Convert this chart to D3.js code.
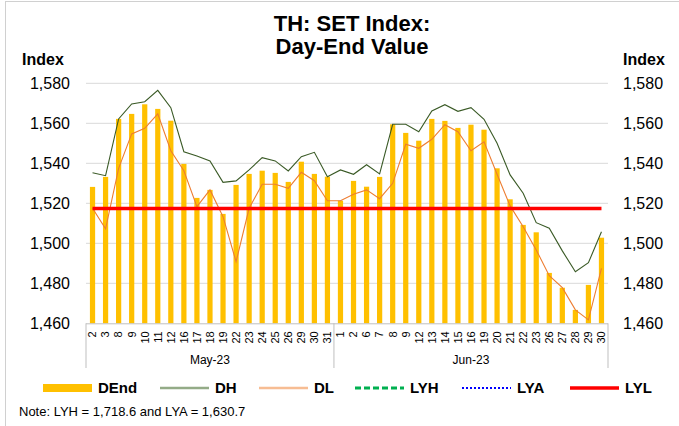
<!DOCTYPE html>
<html>
<head>
<meta charset="utf-8">
<script src="https://cdn.jsdelivr.net/npm/d3@7"></script>
<style>
  body { margin: 0; background: #fff; }
  svg { display: block; font-family: "Liberation Sans", Arial, sans-serif; }
</style>
</head>
<body>
<div id="chart"></div>
<script>
// trading days in each month
const mayDays = [2, 3, 8, 9, 10, 11, 12, 16, 17, 18, 19, 22, 23, 24, 25, 26, 29, 30, 31];
const junDays = [1, 2, 6, 7, 8, 9, 12, 13, 14, 15, 16, 19, 20, 21, 22, 23, 26, 27, 28, 29, 30];
const months = ["May-23", "Jun-23"];

// day-end, day high, day low
const dEnd = [1528.2, 1533.2, 1562.2, 1564.7, 1569.5, 1567.2, 1561.3, 1539.7, 1522.7, 1526.7, 1514.7, 1529.2, 1534.7, 1536.3, 1535.2, 1530.7, 1540.8, 1534.7, 1533.3,
              1521.3, 1531.2, 1528.3, 1533.2, 1559.5, 1555.2, 1551.3, 1562.2, 1561.2, 1557.7, 1559.3, 1556.8, 1537.5, 1522.0, 1509.2, 1505.5, 1485.2, 1477.8, 1466.7, 1479.2, 1502.8];
const dH = [1535.3, 1533.8, 1562.2, 1569.7, 1570.8, 1576.5, 1567.8, 1545.8, 1543.7, 1541.2, 1530.5, 1531.2, 1536.7, 1542.8, 1541.2, 1536.2, 1543.3, 1545.5, 1533.3,
            1536.7, 1534.5, 1539.3, 1534.7, 1559.5, 1559.5, 1555.8, 1566.2, 1569.3, 1566.0, 1567.8, 1562.0, 1550.0, 1534.2, 1525.0, 1510.3, 1507.5, 1496.2, 1485.8, 1490.3, 1505.8];
const dL = [1517.5, 1507.2, 1537.5, 1554.7, 1557.5, 1564.7, 1546.3, 1536.3, 1518.3, 1526.7, 1513.3, 1490.8, 1517.5, 1529.5, 1529.5, 1527.5, 1535.5, 1531.3, 1521.3,
            1521.3, 1524.5, 1526.7, 1522.3, 1530.0, 1549.5, 1547.5, 1552.0, 1559.3, 1555.8, 1546.3, 1550.7, 1534.5, 1518.7, 1508.3, 1496.7, 1483.8, 1477.8, 1466.7, 1461.7, 1487.5];
const lyl = 1517.4;
const yTicks = [1460, 1480, 1500, 1520, 1540, 1560, 1580];

const legendItems = [
  { key: "DEnd", x: 43 },
  { key: "DH", x: 160 },
  { key: "DL", x: 259 },
  { key: "LYH", x: 355 },
  { key: "LYA", x: 462 },
  { key: "LYL", x: 570 }
];

// build rows
const rows = [];
mayDays.forEach(d => rows.push({ key: "May-" + d, day: d, month: months[0] }));
junDays.forEach(d => rows.push({ key: "Jun-" + d, day: d, month: months[1] }));
rows.forEach((r, i) => { r.end = dEnd[i]; r.high = dH[i]; r.low = dL[i]; });

const W = 679, H = 426;
const plotLeft = 86, plotRight = 608, plotTop = 83.3, plotBottom = 323.3;

const svg = d3.select("#chart").append("svg")
  .attr("width", W).attr("height", H);

// outer frame
svg.append("rect")
  .attr("x", 5.5).attr("y", 1.5)
  .attr("width", W + 10).attr("height", H + 10)
  .attr("fill", "none").attr("stroke", "#d0d0d0");

const x = d3.scaleBand()
  .domain(rows.map(r => r.key))
  .range([plotLeft, plotRight])
  .paddingInner(0.6)
  .paddingOuter(0.3);

const y = d3.scaleLinear()
  .domain([1460, 1580])
  .range([plotBottom, plotTop]);

const cx = k => x(k) + x.bandwidth() / 2;

// gridlines
svg.append("g").selectAll("line")
  .data(yTicks.slice(1))
  .join("line")
  .attr("x1", plotLeft).attr("x2", plotRight)
  .attr("y1", d => y(d)).attr("y2", d => y(d))
  .attr("stroke", "#d9d9d9").attr("stroke-width", 1);

// y labels both sides
const fmt = d3.format(",");
svg.append("g").selectAll("text")
  .data(yTicks)
  .join("text")
  .attr("x", 70).attr("y", d => y(d)).attr("dy", "0.35em")
  .attr("text-anchor", "end")
  .attr("font-size", 16).attr("fill", "#000")
  .text(d => fmt(d));

svg.append("g").selectAll("text")
  .data(yTicks)
  .join("text")
  .attr("x", 623).attr("y", d => y(d)).attr("dy", "0.35em")
  .attr("text-anchor", "start")
  .attr("font-size", 16).attr("fill", "#000")
  .text(d => fmt(d));

svg.append("text").attr("x", 22).attr("y", 65)
  .attr("font-size", 16).attr("font-weight", "bold").text("Index");
svg.append("text").attr("x", 623).attr("y", 65)
  .attr("font-size", 16).attr("font-weight", "bold").text("Index");

// title
const title = svg.append("text")
  .attr("x", 352).attr("text-anchor", "middle")
  .attr("font-size", 22).attr("font-weight", "bold");
title.append("tspan").attr("x", 352).attr("y", 31).text("TH: SET Index:");
title.append("tspan").attr("x", 352).attr("y", 53.5).text("Day-End Value");

// bars
svg.append("g").selectAll("rect")
  .data(rows)
  .join("rect")
  .attr("x", d => x(d.key))
  .attr("y", d => y(d.end))
  .attr("width", x.bandwidth())
  .attr("height", d => plotBottom - y(d.end))
  .attr("fill", "#FFC000");

// high / low lines
const lineHigh = d3.line().x(d => cx(d.key)).y(d => y(d.high));
const lineLow = d3.line().x(d => cx(d.key)).y(d => y(d.low));

svg.append("path").datum(rows)
  .attr("d", lineHigh)
  .attr("fill", "none").attr("stroke", "#3a5a26").attr("stroke-width", 1.1);

svg.append("path").datum(rows)
  .attr("d", lineLow)
  .attr("fill", "none").attr("stroke", "#ED7D31").attr("stroke-width", 1.1);

// last year low
svg.append("line")
  .attr("x1", cx(rows[0].key)).attr("x2", cx(rows[rows.length - 1].key))
  .attr("y1", y(lyl)).attr("y2", y(lyl))
  .attr("stroke", "#FF0000").attr("stroke-width", 3.5);

// x axis
svg.append("line")
  .attr("x1", plotLeft).attr("x2", plotRight)
  .attr("y1", plotBottom + 0.5).attr("y2", plotBottom + 0.5)
  .attr("stroke", "#bfbfbf");

svg.append("g").selectAll("text")
  .data(rows)
  .join("text")
  .attr("transform", d => `translate(${cx(d.key)},${plotBottom + 8}) rotate(-90)`)
  .attr("dy", "0.35em")
  .attr("text-anchor", "end")
  .attr("font-size", 11).attr("fill", "#000")
  .text(d => d.day);

// month separators and labels
const sepX = [plotLeft, x("Jun-1") - x.step() * x.paddingInner() / 2, plotRight];
svg.append("g").selectAll("line")
  .data(sepX)
  .join("line")
  .attr("x1", d => d).attr("x2", d => d)
  .attr("y1", plotBottom).attr("y2", 368)
  .attr("stroke", "#bfbfbf");

svg.append("g").selectAll("text")
  .data(months)
  .join("text")
  .attr("x", (d, i) => (sepX[i] + sepX[i + 1]) / 2)
  .attr("y", 364)
  .attr("text-anchor", "middle")
  .attr("font-size", 12).attr("fill", "#000")
  .text(d => d);

// legend
const lg = svg.append("g").selectAll("g")
  .data(legendItems)
  .join("g")
  .attr("transform", d => `translate(${d.x},388)`);

lg.each(function(d) {
  const g = d3.select(this);
  if (d.key === "DEnd") {
    g.append("rect").attr("x", 0).attr("y", -4).attr("width", 49).attr("height", 8).attr("fill", "#FFC000");
  } else {
    const ln = g.append("line").attr("x1", 0).attr("x2", 49).attr("y1", 0).attr("y2", 0);
    if (d.key === "DH") ln.attr("stroke", "#94ab87").attr("stroke-width", 2.5);
    if (d.key === "DL") ln.attr("stroke", "#f7bd93").attr("stroke-width", 2.5);
    if (d.key === "LYH") ln.attr("stroke", "#00B050").attr("stroke-width", 3).attr("stroke-dasharray", "6,3");
    if (d.key === "LYA") ln.attr("stroke", "#0000FF").attr("stroke-width", 2).attr("stroke-dasharray", "2,2");
    if (d.key === "LYL") ln.attr("stroke", "#FF0000").attr("stroke-width", 3.5);
  }
  g.append("text")
    .attr("x", 55).attr("y", 0).attr("dy", "0.35em")
    .attr("font-size", 15).attr("font-weight", "bold")
    .text(d.key);
});

// note
svg.append("text")
  .attr("x", 19).attr("y", 416)
  .attr("font-size", 13).attr("fill", "#000")
  .text("Note: LYH = 1,718.6 and LYA = 1,630.7");
</script>
</body>
</html>
